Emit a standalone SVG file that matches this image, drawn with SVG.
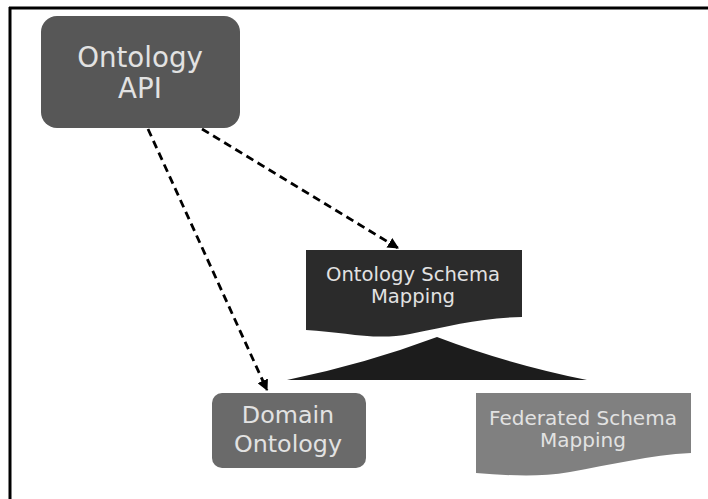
<svg xmlns="http://www.w3.org/2000/svg" width="708" height="499" viewBox="0 0 708 499">
<style>
  text { font-family: "DejaVu Sans", Verdana, sans-serif; text-anchor: middle; fill: #e2e2e2; }
  .conn { fill: none; stroke: #000; stroke-width: 2.8; stroke-dasharray: 8 5; }
</style>
<defs>
  <marker id="arr" viewBox="0 0 10 10" refX="9" refY="5" markerWidth="4" markerHeight="4" orient="auto" markerUnits="strokeWidth">
    <path d="M0,0 L10,5 L0,10 z" fill="#000"/>
  </marker>
</defs>
<rect width="708" height="499" fill="#fff"/>
<g id="frame">
  <line x1="9" y1="8" x2="708" y2="8" stroke="#000" stroke-width="3"/>
  <line x1="10" y1="7" x2="10" y2="499" stroke="#000" stroke-width="3"/>
</g>
<g id="connectors">
  <line class="conn" x1="148" y1="129" x2="267" y2="390" marker-end="url(#arr)"/>
  <line class="conn" x1="202" y1="129" x2="398" y2="248" marker-end="url(#arr)"/>
</g>
<g id="ontology-api">
  <rect x="41" y="16" width="199" height="112" rx="16" fill="#575757"/>
  <text x="140" y="67" font-size="27.7">Ontology</text>
  <text x="140" y="98" font-size="27.7">API</text>
</g>
<g id="ontology-schema-mapping">
  <path d="M306,250 H522 V317 C480,318 450,326 410,334 C375,341 345,332 306,330 Z" fill="#2b2b2b"/>
  <text x="413" y="281" font-size="19.6" fill="#d8d8d8">Ontology Schema</text>
  <text x="413" y="303" font-size="19.6" fill="#d8d8d8">Mapping</text>
</g>
<g id="wedge">
  <path d="M437,337 Q365,364 287,380 H587 Q508,364 437,337 Z" fill="#1c1c1c"/>
</g>
<g id="domain-ontology">
  <rect x="212" y="393" width="154" height="75" rx="10" fill="#6a6a6a"/>
  <text x="288" y="423" font-size="23.8">Domain</text>
  <text x="288" y="452" font-size="23.8">Ontology</text>
</g>
<g id="federated-schema-mapping">
  <path d="M476,393 H691 V453 C650,455 610,465 570,472 C535,478 505,475 476,473 Z" fill="#808080"/>
  <text x="583" y="425" font-size="20" fill="#dadada">Federated Schema</text>
  <text x="583" y="447" font-size="20" fill="#dadada">Mapping</text>
</g>
</svg>
